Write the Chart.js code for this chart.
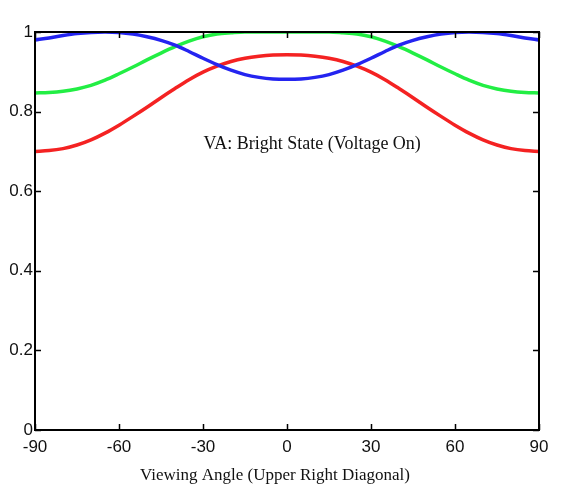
<!DOCTYPE html>
<html>
<head>
<meta charset="utf-8">
<script src="https://cdn.jsdelivr.net/npm/chart.js@4.4.1/dist/chart.umd.min.js"></script>
<style>
  html, body { margin: 0; padding: 0; background: #fff; }
  #wrap { width: 565px; height: 500px; }
</style>
</head>
<body>
<div id="wrap"><canvas id="vaChart" width="565" height="500"></canvas></div>
<script>
// viewing angles (deg) and normalised transmittance
const angles = [-90, -85, -80, -75, -70, -65, -60, -55, -50, -45, -40, -35, -30, -25, -20, -15, -10, -5,
    0, 5, 10, 15, 20, 25, 30, 35, 40, 45, 50, 55, 60, 65, 70, 75, 80, 85, 90];

const redVals = [0.700, 0.702, 0.707, 0.716, 0.729, 0.746, 0.766, 0.788, 0.811, 0.835, 0.858, 0.880, 0.899,
    0.914, 0.926, 0.934, 0.939, 0.942, 0.943, 0.942, 0.939, 0.934, 0.926, 0.914, 0.899, 0.880, 0.858, 0.835,
    0.811, 0.788, 0.766, 0.746, 0.729, 0.716, 0.707, 0.702, 0.700];

const greenVals = [0.847, 0.848, 0.851, 0.857, 0.866, 0.879, 0.895, 0.912, 0.930, 0.947, 0.963, 0.977, 0.988,
    0.995, 0.998, 1.0, 1.0, 1.0, 1.0, 1.0, 1.0, 1.0, 0.998, 0.995, 0.988, 0.977, 0.963, 0.947,
    0.930, 0.912, 0.895, 0.879, 0.866, 0.857, 0.851, 0.848, 0.847];

const blueVals = [0.980, 0.985, 0.991, 0.996, 0.999, 1.0, 0.999, 0.995, 0.988, 0.979, 0.967, 0.951, 0.934,
    0.918, 0.904, 0.893, 0.886, 0.882, 0.881, 0.882, 0.886, 0.893, 0.904, 0.918, 0.934, 0.951, 0.967, 0.979,
    0.988, 0.995, 0.999, 1.0, 0.999, 0.996, 0.991, 0.985, 0.980];

const xTicks = [-90, -60, -30, 0, 30, 60, 90];
const yTicks = [0, 0.2, 0.4, 0.6, 0.8, 1];
const noteText = 'VA: Bright State (Voltage On)';
const xTitle = 'Viewing Angle (Upper Right Diagonal)';

const serif = '"Liberation Serif", "Times New Roman", serif';
const sans = '"Liberation Sans", Arial, sans-serif';

function toPoints(vals) {
    return angles.map((a, i) => ({ x: a, y: vals[i] }));
}

// box round the plot with inward ticks on every side (MATLAB look)
const framePlugin = {
    id: 'frame',
    afterDraw(chart) {
        const { ctx, chartArea: a, scales } = chart;
        const len = 6;
        ctx.save();
        ctx.strokeStyle = '#000';
        ctx.lineWidth = 2;
        ctx.strokeRect(a.left, a.top, a.right - a.left, a.bottom - a.top);
        ctx.lineWidth = 1.5;
        ctx.beginPath();
        xTicks.forEach(t => {
            const px = Math.round(scales.x.getPixelForValue(t)) + 0.5;
            ctx.moveTo(px, a.bottom); ctx.lineTo(px, a.bottom - len);
            ctx.moveTo(px, a.top); ctx.lineTo(px, a.top + len);
        });
        yTicks.forEach(t => {
            const py = Math.round(scales.y.getPixelForValue(t)) + 0.5;
            ctx.moveTo(a.left, py); ctx.lineTo(a.left + len, py);
            ctx.moveTo(a.right, py); ctx.lineTo(a.right - len, py);
        });
        ctx.stroke();

        // annotation inside the plot
        ctx.fillStyle = '#111';
        ctx.textAlign = 'center';
        ctx.textBaseline = 'alphabetic';
        ctx.font = '18px ' + serif;
        ctx.fillText(noteText, scales.x.getPixelForValue(9), scales.y.getPixelForValue(0.707));

        // x axis title (sits a bit left of the plot centre in the original)
        ctx.font = '17px ' + serif;
        ctx.fillText(xTitle, 275, 480);
        ctx.restore();
    }
};

const ctx = document.getElementById('vaChart').getContext('2d');

new Chart(ctx, {
    type: 'line',
    data: {
        datasets: [
            { label: 'Blue', data: toPoints(blueVals), borderColor: '#2424f0' },
            { label: 'Green', data: toPoints(greenVals), borderColor: '#22ee44' },
            { label: 'Red', data: toPoints(redVals), borderColor: '#f42222' }
        ]
    },
    options: {
        responsive: false,
        animation: false,
        devicePixelRatio: 1,
        layout: { padding: { top: 32, right: 26, left: 0, bottom: 0 } },
        elements: {
            point: { radius: 0 },
            line: { borderWidth: 3.5, tension: 0.4, cubicInterpolationMode: 'monotone' }
        },
        plugins: {
            legend: { display: false },
            tooltip: { enabled: false }
        },
        scales: {
            x: {
                type: 'linear',
                min: -90,
                max: 90,
                afterFit: s => { s.height = 70; },
                afterBuildTicks: s => { s.ticks = xTicks.map(v => ({ value: v })); },
                grid: { display: false, drawTicks: false },
                border: { display: false },
                ticks: {
                    padding: 7,
                    color: '#111',
                    font: { family: sans, size: 17 },
                    maxRotation: 0
                }
            },
            y: {
                min: 0,
                max: 1,
                afterFit: s => { s.width = 35; },
                afterBuildTicks: s => { s.ticks = yTicks.map(v => ({ value: v })); },
                grid: { display: false, drawTicks: false },
                border: { display: false },
                ticks: {
                    padding: 2,
                    color: '#111',
                    font: { family: sans, size: 17 },
                    callback: v => String(v)
                }
            }
        }
    },
    plugins: [framePlugin]
});
</script>
</body>
</html>
